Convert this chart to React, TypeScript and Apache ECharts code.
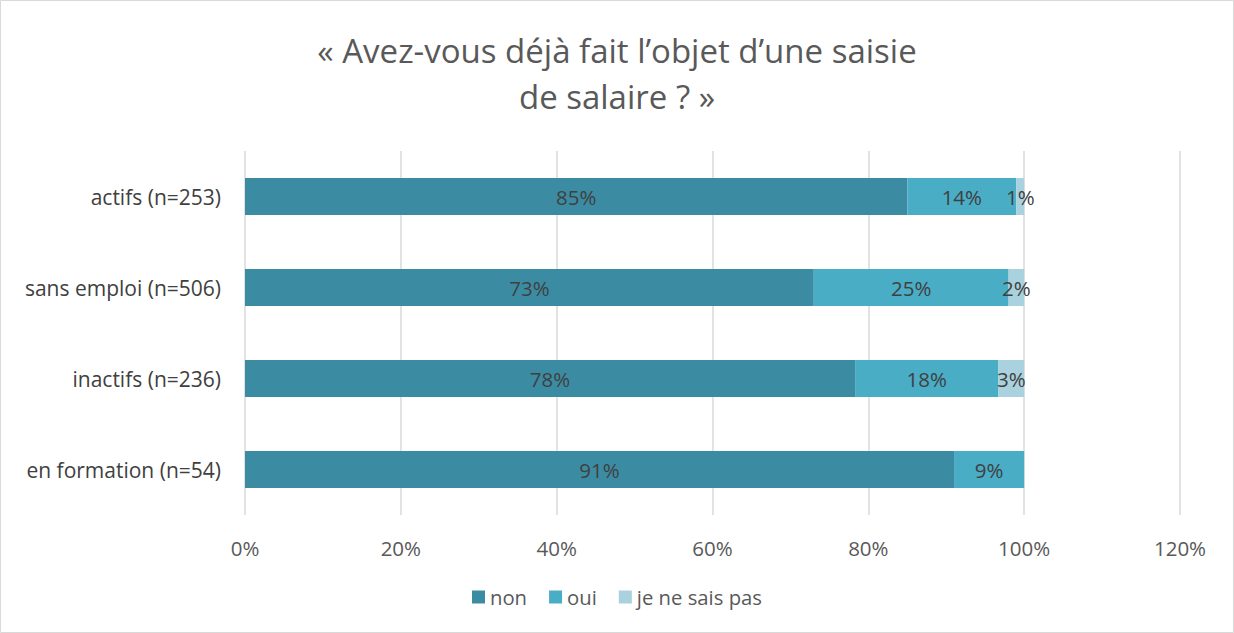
import React, { useEffect, useRef } from "react";
import * as echarts from "echarts";

const categories = ["actifs (n=253)", "sans emploi (n=506)", "inactifs (n=236)", "en formation (n=54)"];
const nonValues = [85, 73, 78.3, 91];
const ouiValues = [14, 25, 18.4, 9];
const nspValues = [1, 2, 3.3, null];
const seriesNames = ["non", "oui", "je ne sais pas"];
const colors = ["#3b8ca3", "#4aadc6", "#a9d1de"];
const titleLines = ["« Avez-vous déjà fait l’objet d’une saisie", "de salaire ? »"];

const FONT = "'Open Sans', 'Noto Sans', sans-serif";

export default function App() {
  const ref = useRef<HTMLDivElement>(null);
  useEffect(() => {
    if (!ref.current) return;
    const chart = echarts.init(ref.current, null, { renderer: "svg" });
    const mk = (name: string, data: (number | null)[], color: string) => ({
      name,
      type: "bar",
      stack: "total",
      barWidth: 37,
      data,
      itemStyle: { color },
      label: {
        show: true,
        position: "inside",
        formatter: (p: any) => (p.value == null ? "" : Math.round(p.value) + "%"),
        color: "#404040",
        fontSize: 20.5,
        fontFamily: FONT,
      },
      emphasis: { disabled: true },
    });
    chart.setOption({
      animation: false,
      title: {
        text: titleLines.join("\n"),
        left: "center",
        top: 22,
        textStyle: { fontSize: 33, fontWeight: "normal", color: "#595959", fontFamily: FONT, lineHeight: 46 },
      },
      graphic: [
        {
          type: "rect",
          shape: { x: 0.5, y: 0.5, width: 1233, height: 632 },
          style: { fill: "none", stroke: "#d9d9d9", lineWidth: 1 },
          silent: true,
        },
      ],
      legend: {
        bottom: 21,
        left: "center",
        itemWidth: 13,
        itemHeight: 13,
        itemGap: 22,
        icon: "rect",
        textStyle: { fontSize: 20.3, color: "#595959", fontFamily: FONT },
        data: seriesNames,
      },
      grid: { left: 245, right: 54, top: 151, bottom: 118 },
      xAxis: {
        type: "value",
        min: 0,
        max: 120,
        interval: 20,
        axisLabel: { formatter: "{value}%", fontSize: 20.5, color: "#595959", fontFamily: FONT, margin: 22 },
        splitLine: { lineStyle: { color: "#d9d9d9", width: 1.5 } },
        axisLine: { show: false },
        axisTick: { show: false },
      },
      yAxis: {
        type: "category",
        inverse: true,
        data: categories,
        axisLabel: { fontSize: 21, color: "#404040", fontFamily: FONT, margin: 24 },
        axisLine: { show: false },
        axisTick: { show: false },
      },
      series: [
        mk(seriesNames[0], nonValues, colors[0]),
        mk(seriesNames[1], ouiValues, colors[1]),
        mk(seriesNames[2], nspValues, colors[2]),
      ],
    });
    return () => chart.dispose();
  }, []);
  return (
    <div
      ref={ref}
      style={{ position: "fixed", left: 0, top: 0, width: 1234, height: 633, background: "#fff" }}
    />
  );
}
